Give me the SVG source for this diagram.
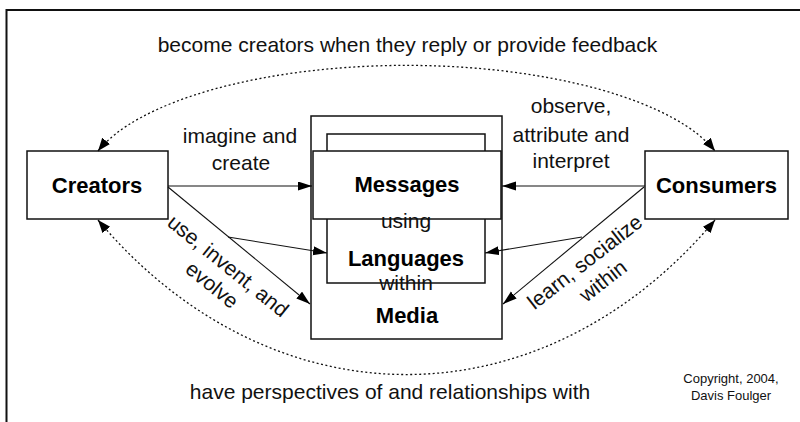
<svg xmlns="http://www.w3.org/2000/svg" width="800" height="422" viewBox="0 0 800 422">
<defs>
<style>
.box{fill:#fff;stroke:#111;stroke-width:1.5}
.lbl{font-family:"Liberation Sans",Arial,sans-serif;font-size:22px;font-weight:bold;fill:#000;text-anchor:middle}
.txt{font-family:"Liberation Sans",Arial,sans-serif;font-size:21px;fill:#111;text-anchor:middle}
.small{font-family:"Liberation Sans",Arial,sans-serif;font-size:13px;fill:#111;text-anchor:middle}
.conn{fill:none;stroke:#111;stroke-width:1.1}
.dot{fill:none;stroke:#111;stroke-width:1.3;stroke-dasharray:2 2.5}
</style>
<marker id="ah" markerUnits="userSpaceOnUse" markerWidth="15" markerHeight="10" refX="14" refY="4.5" orient="auto">
<path d="M0,0 L14,4.5 L0,9 z" fill="#000"/>
</marker>
<marker id="dh" markerUnits="userSpaceOnUse" markerWidth="14" markerHeight="12" refX="13" refY="5" orient="auto-start-reverse">
<path d="M0,0 L13,5 L0,10 z" fill="#000"/>
</marker>
</defs>
<rect width="800" height="422" fill="#fff"/>
<rect x="6.5" y="10" width="820" height="450" fill="none" stroke="#111" stroke-width="2"/>

<g id="media">
<rect class="box" x="311" y="116" width="191" height="223"/>
<text class="lbl" x="407" y="323">Media</text>
</g>
<g id="languages">
<rect class="box" x="327" y="134" width="158" height="149"/>
<text class="lbl" x="406" y="266">Languages</text>
</g>
<g id="messages">
<rect class="box" x="313" y="151" width="188" height="68"/>
<text class="lbl" x="407" y="192">Messages</text>
</g>
<g id="creators">
<rect class="box" x="27" y="151" width="141" height="68"/>
<text class="lbl" x="97" y="193">Creators</text>
</g>
<g id="consumers">
<rect class="box" x="645" y="151" width="143" height="68"/>
<text class="lbl" x="716.5" y="193">Consumers</text>
</g>

<g id="connectors">
<line class="conn" x1="168" y1="186" x2="312" y2="186" marker-end="url(#ah)"/>
<line class="conn" x1="168" y1="187" x2="310" y2="304" marker-end="url(#ah)"/>
<line class="conn" x1="228" y1="237" x2="327" y2="253" marker-end="url(#ah)"/>
<line class="conn" x1="645" y1="186" x2="502" y2="186" marker-end="url(#ah)"/>
<line class="conn" x1="644" y1="187" x2="503" y2="304" marker-end="url(#ah)"/>
<line class="conn" x1="582" y1="237" x2="485" y2="253" marker-end="url(#ah)"/>
<path class="dot" d="M98,151 A322,120 0 0 1 715,151" marker-start="url(#dh)" marker-end="url(#dh)"/>
<path class="dot" d="M98,220 A448.6,564 0 0 0 715,220" marker-start="url(#dh)" marker-end="url(#dh)"/>
</g>

<g id="labels">
<text class="txt" x="407.5" y="52">become creators when they reply or provide feedback</text>
<text class="txt" x="390" y="399">have perspectives of and relationships with</text>
<text class="txt" x="240" y="143">imagine and</text>
<text class="txt" x="241" y="170">create</text>
<text class="txt" x="571" y="113">observe,</text>
<text class="txt" x="571" y="142">attribute and</text>
<text class="txt" x="571" y="168">interpret</text>
<text class="txt" x="406" y="228">using</text>
<text class="txt" x="406" y="290">within</text>
<text class="txt" transform="translate(223.6,271.4) rotate(39)">use, invent, and</text>
<text class="txt" transform="translate(207.6,290.4) rotate(39)">evolve</text>
<text class="txt" transform="translate(589.3,267.5) rotate(-38)">learn, socialize</text>
<text class="txt" transform="translate(607.3,286.5) rotate(-38)">within</text>
<text class="small" x="731" y="383">Copyright, 2004,</text>
<text class="small" x="731" y="400">Davis Foulger</text>
</g>
</svg>
